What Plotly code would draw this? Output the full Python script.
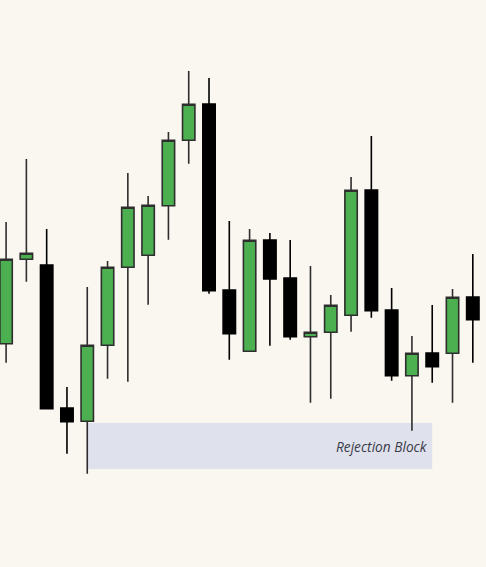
import plotly.graph_objects as go

# candle values (arbitrary price units)
opens = [256.3, 340.7, 335.0, 192.0, 178.7, 254.7, 332.7, 344.7, 394.3, 459.7, 496.0, 310.0,
         248.7, 360.0, 322.0, 263.3, 267.7, 284.7, 410.0, 290.0, 224.3, 247.0, 246.7, 303.0]
highs = [378.0, 441.0, 371.0, 213.0, 313.0, 339.0, 427.0, 404.0, 468.0, 529.0, 522.0, 379.0,
         371.0, 367.0, 360.0, 334.0, 305.0, 423.0, 464.0, 312.0, 264.0, 295.0, 311.0, 346.0]
lows = [237.3, 318.3, 191.3, 146.3, 126.3, 221.3, 218.3, 295.3, 360.3, 436.3, 306.3, 240.3,
        248.7, 254.3, 260.3, 197.3, 201.3, 268.3, 282.3, 219.3, 169.3, 217.3, 197.3, 237.3]
closes = [340.7, 346.7, 191.3, 178.3, 254.7, 332.7, 392.7, 394.7, 459.7, 495.7, 309.3, 266.3,
          359.7, 321.0, 263.3, 267.7, 294.7, 409.7, 289.3, 224.3, 246.7, 233.3, 302.7, 280.3]
bars = list(range(len(opens)))

# rejection block zone
zone_start, zone_end = 4, 21
zone_low, zone_high = 131.0, 177.0
zone_label = "Rejection Block"

BG = "#faf7f0"
GREEN = "#4caf50"

fig = go.Figure()
fig.add_trace(
    go.Candlestick(
        x=bars,
        open=opens,
        high=highs,
        low=lows,
        close=closes,
        increasing=dict(fillcolor=GREEN, line=dict(color="#2e2e2e", width=1.6)),
        decreasing=dict(fillcolor="#000000", line=dict(color="#000000", width=1.6)),
        showlegend=False,
    )
)

fig.add_shape(
    type="rect",
    x0=zone_start, x1=zone_end, y0=zone_low, y1=zone_high,
    fillcolor="#dfe1ec", line=dict(width=0), layer="below",
)
fig.add_annotation(
    x=zone_end, y=(zone_low + zone_high) / 2,
    text=zone_label, showarrow=False,
    xanchor="right", yanchor="middle", xshift=-2,
    font=dict(family="Open Sans, sans-serif", size=13.7, color="#3a3c48", style="italic"),
)

fig.update_layout(
    width=486,
    height=567,
    margin=dict(l=0, r=0, t=0, b=0),
    paper_bgcolor=BG,
    plot_bgcolor=BG,
    boxgap=0.39,
    boxgroupgap=0,
    xaxis=dict(visible=False, range=[-0.3, 23.65], rangeslider=dict(visible=False)),
    yaxis=dict(visible=False, range=[33, 600]),
    showlegend=False,
)

# drop the page's default body margin so the chart fills the window
fig.write_html(
    "out.html",
    config={"displayModeBar": False},
    post_script=f"document.body.style.margin='0';document.body.style.background='{BG}';",
)
